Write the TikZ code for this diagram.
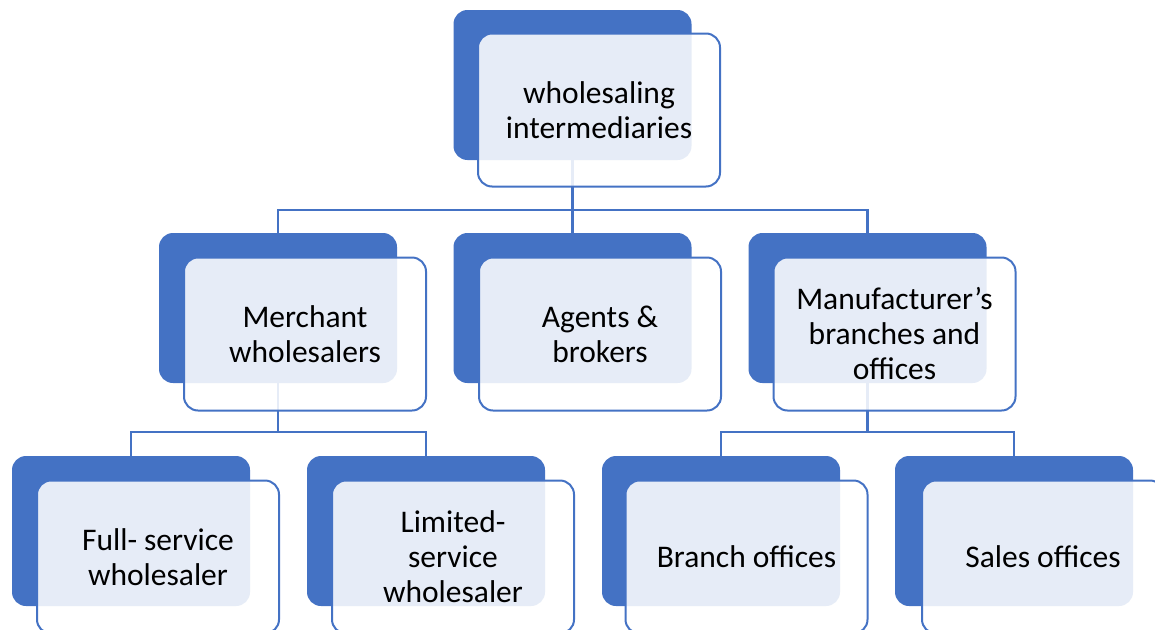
\documentclass[tikz,border=0pt]{standalone}
\usepackage{fontspec}
\setmainfont{Carlito}
\definecolor{acc}{HTML}{4472C4}
\begin{document}
\begin{tikzpicture}[x=1pt,y=-1pt,
 back/.style={fill=acc, rounded corners=14pt, minimum width=238pt, minimum height=150pt, inner sep=0pt},
 front/.style={draw=acc, line width=2pt, fill=white, fill opacity=0.87, text opacity=1, rounded corners=14pt, minimum width=242pt, minimum height=153pt, align=center, font=\fontsize{31.5}{35}\selectfont, execute at begin node={\spaceskip=7pt\relax}, inner sep=0pt, text width=232pt},
 link/.style={draw=acc, line width=2.2pt}]
\useasboundingbox (0,0) rectangle (1155,629);
\clip (0,0) rectangle (1155,629);
% back (blue) rectangles
\node[back] (tb) at (572.5,85) {};
\node[back] (mb) at (278,308) {};
\node[back] (ab) at (572.5,308) {};
\node[back] (fb) at (867.5,308) {};
\node[back] (fsb) at (131,531) {};
\node[back] (lsb) at (426,531) {};
\node[back] (bob) at (721,531) {};
\node[back] (sob) at (1014,531) {};
% connectors
\coordinate (bar1) at (0,210);
\coordinate (bar2) at (0,432);
\draw[link] (tb.south) -- (tb.south |- bar1) -| (mb.north);
\draw[link] (tb.south |- bar1) -| (fb.north);
\draw[link] (tb.south |- bar1) -- (ab.north);
\draw[link] (mb.south) -- (mb.south |- bar2) -| (fsb.north);
\draw[link] (mb.south |- bar2) -| (lsb.north);
\draw[link] (fb.south) -- (fb.south |- bar2) -| (bob.north);
\draw[link] (fb.south |- bar2) -| (sob.north);
% front rectangles with text
\node[front] (t) at (599,110) {wholesaling\\intermediaries};
\node[front] (m) at (305,334) {Merchant\\wholesalers};
\node[front] (a) at (600,334) {Agents \&\\brokers};
\node[front] (f) at (894.5,334) {Manufacturer’s\\branches and\\offices};
\node[front] (fs) at (158,557) {Full- service\\wholesaler};
\node[front] (ls) at (453,557) {Limited-\\service\\wholesaler};
\node[front] (bo) at (746.5,557) {Branch offices};
\node[front] (so) at (1043,557) {Sales offices};
\end{tikzpicture}
\end{document}
